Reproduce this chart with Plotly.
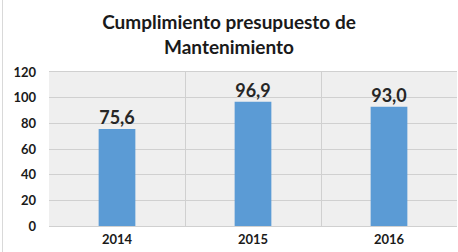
import plotly.graph_objects as go

years = ["2014", "2015", "2016"]
values = [75.6, 96.9, 93.0]
y_ticks = [0, 20, 40, 60, 80, 100, 120]

fig = go.Figure()
fig.add_trace(go.Bar(
    x=years, y=values,
    marker=dict(color="#5b9bd5", line=dict(width=0)),
    width=0.27,
    hoverinfo="skip",
))
fig.add_trace(go.Scatter(
    x=years, y=values,
    mode="text",
    text=values,
    texttemplate="%{y:.1f}",
    textposition="top center",
    textfont=dict(family="Lato", size=18, color="#262626", weight="bold"),
    cliponaxis=False,
    hoverinfo="skip",
))

fig.update_layout(
    width=458, height=252,
    margin=dict(l=49, r=1, t=72, b=26),
    paper_bgcolor="white",
    plot_bgcolor="#efefef",
    separators=",.",
    showlegend=False,
    title=dict(
        text="<b>Cumplimiento presupuesto de<br>Mantenimiento</b>",
        x=0.5, xanchor="center", y=0.885, yanchor="middle",
        font=dict(family="Lato", size=19, color="#1a1a1a"),
    ),
    font=dict(family="Lato", color="#1a1a1a"),
)
fig.update_xaxes(
    type="category",
    tickson="boundaries",
    showgrid=True, gridcolor="#d0d0d0", gridwidth=1,
    showline=True, linecolor="#d0d0d0", mirror=True,
    ticks="", tickfont=dict(family="Lato", size=13, color="#1a1a1a", weight="bold"),
    ticklabelstandoff=1,
)
fig.update_yaxes(
    range=[0, 120], tickvals=y_ticks,
    showgrid=True, gridcolor="#d0d0d0", gridwidth=1,
    zeroline=False,
    ticks="", tickfont=dict(family="Lato", size=13, color="#1a1a1a", weight="bold"),
    ticklabelstandoff=12,
)
fig.add_shape(type="rect", xref="paper", yref="paper",
              x0=-0.114, x1=1.01, y0=-0.2, y1=1.6,
              line=dict(color="#d9d9d9", width=1), layer="below")

fig.write_html("out.html", config={"displayModeBar": False},
               post_script="document.body.style.margin='0';")
